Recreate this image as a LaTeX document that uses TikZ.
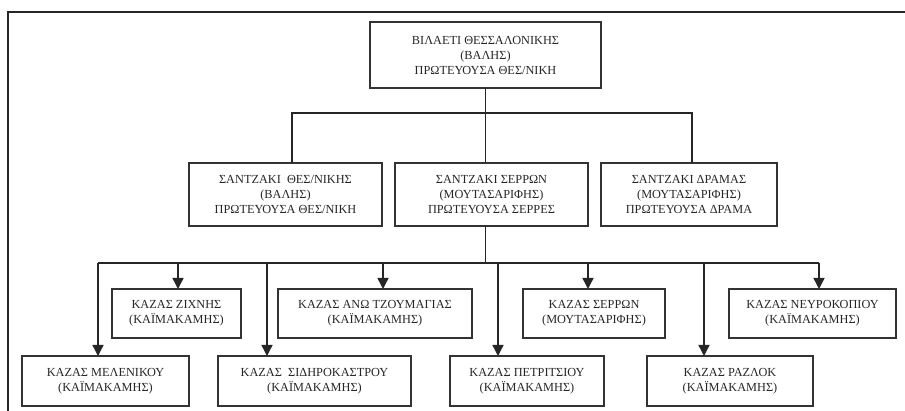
\documentclass[tikz,border=0pt]{standalone}
\usepackage{fontspec}
\setmainfont{Liberation Serif}
\usetikzlibrary{arrows.meta}
\tikzstyle{unit} = [rectangle, draw=black!80, line width=1.6pt, text=black!85, align=center, inner sep=0pt, outer sep=0pt, font=\fontsize{12.3}{15}\selectfont]
\tikzstyle{line} = [line width=1.4pt, draw=black!85]
\tikzstyle{arrow} = [line width=1.4pt, draw=black!85, -{Triangle[width=11pt,length=11pt]}]

\begin{document}
\begin{tikzpicture}[x=1pt, y=-1pt]
\useasboundingbox (0,0) rectangle (905,411);
\draw [line width=2.2pt, black!85] (8,425) -- (8,12) -- (915,12);

% vilaeti
\node (vil) [unit, minimum width=231pt, minimum height=66pt] at (485.5,55) {ΒΙΛΑΕΤΙ ΘΕΣΣΑΛΟΝΙΚΗΣ\\(ΒΑΛΗΣ)\\ΠΡΩΤΕΥΟΥΣΑ ΘΕΣ/ΝΙΚΗ};

% santzakia
\node (sanThes) [unit, minimum width=193pt, minimum height=63pt] at (285.5,194.5) {ΣΑΝΤΖΑΚΙ \ ΘΕΣ/ΝΙΚΗΣ\\(ΒΑΛΗΣ)\\ΠΡΩΤΕΥΟΥΣΑ ΘΕΣ/ΝΙΚΗ};
\node (sanSer) [unit, minimum width=193pt, minimum height=63pt] at (491.5,194.5) {ΣΑΝΤΖΑΚΙ ΣΕΡΡΩΝ\\(ΜΟΥΤΑΣΑΡΙΦΗΣ)\\ΠΡΩΤΕΥΟΥΣΑ ΣΕΡΡΕΣ};
\node (sanDram) [unit, minimum width=176pt, minimum height=63pt] at (689,194.5) {ΣΑΝΤΖΑΚΙ ΔΡΑΜΑΣ\\(ΜΟΥΤΑΣΑΡΙΦΗΣ)\\ΠΡΩΤΕΥΟΥΣΑ ΔΡΑΜΑ};

% kazades, upper row
\node (zichn) [unit, minimum width=129pt, minimum height=49pt] at (176.5,313.5) {ΚΑΖΑΣ ΖΙΧΝΗΣ\\(ΚΑΪΜΑΚΑΜΗΣ)};
\node (anoTz) [unit, minimum width=194pt, minimum height=49pt] at (375,313.5) {ΚΑΖΑΣ ΑΝΩ ΤΖΟΥΜΑΓΙΑΣ\\(ΚΑΪΜΑΚΑΜΗΣ)};
\node (kSer) [unit, minimum width=142pt, minimum height=49pt] at (594,313.5) {ΚΑΖΑΣ ΣΕΡΡΩΝ\\(ΜΟΥΤΑΣΑΡΙΦΗΣ)};
\node (nevr) [unit, minimum width=167pt, minimum height=49pt] at (812.5,313.5) {ΚΑΖΑΣ ΝΕΥΡΟΚΟΠΙΟΥ\\(ΚΑΪΜΑΚΑΜΗΣ)};

% kazades, lower row
\node (melen) [unit, minimum width=167pt, minimum height=50pt] at (105.5,381) {ΚΑΖΑΣ ΜΕΛΕΝΙΚΟΥ\\(ΚΑΪΜΑΚΑΜΗΣ)};
\node (sidir) [unit, minimum width=193pt, minimum height=50pt] at (314.5,381) {ΚΑΖΑΣ \ ΣΙΔΗΡΟΚΑΣΤΡΟΥ\\(ΚΑΪΜΑΚΑΜΗΣ)};
\node (petr) [unit, minimum width=154pt, minimum height=50pt] at (527,381) {ΚΑΖΑΣ ΠΕΤΡΙΤΣΙΟΥ\\(ΚΑΪΜΑΚΑΜΗΣ)};
\node (razl) [unit, minimum width=166pt, minimum height=50pt] at (730,381) {ΚΑΖΑΣ ΡΑΖΛΟΚ\\(ΚΑΪΜΑΚΑΜΗΣ)};

% upper connectors
\coordinate (busL) at (292,113);
\coordinate (busR) at (692,113);
\draw [line] (vil.south) -- (vil.south |- sanSer.north);
\draw [line] (busL |- sanThes.north) -- (busL) -- (busR) -- (busR |- sanDram.north);

% lower connectors
\coordinate (busB) at (485.5,263);
\draw [line] (busB |- sanSer.south) -- (busB);
\draw [line] (98,263) -- (819,263);
\foreach \x/\n in {98/melen, 178/zichn, 267/sidir, 383/anoTz, 498/petr, 588/kSer, 704/razl, 819/nevr}
{
  \coordinate (t\n) at (\x,263);
  \draw [arrow] (t\n) -- (t\n |- \n.north);
}
\end{tikzpicture}
\end{document}
